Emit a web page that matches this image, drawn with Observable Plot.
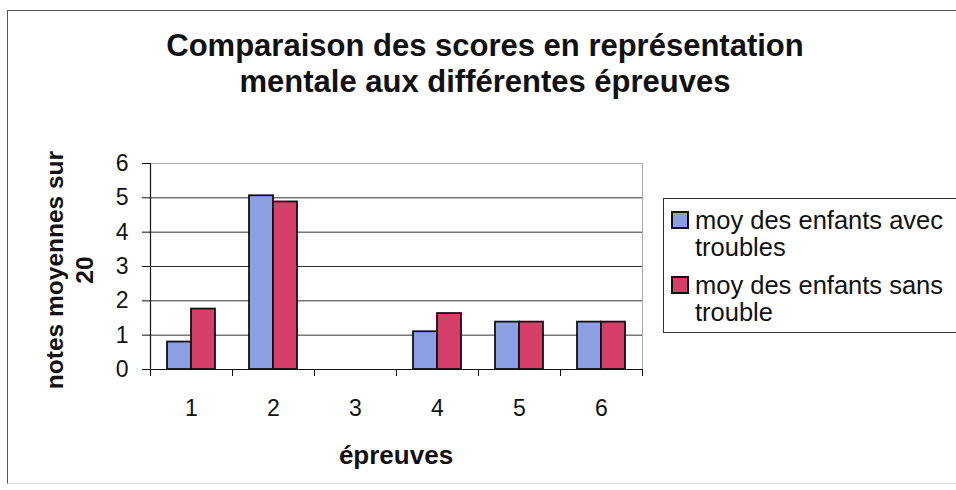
<!DOCTYPE html>
<html>
<head>
<meta charset="utf-8">
<script src="https://cdn.jsdelivr.net/npm/d3@7"></script>
<script src="https://cdn.jsdelivr.net/npm/@observablehq/plot@0.6"></script>
<style>
  html, body { margin: 0; padding: 0; background: #fff; }
  body { font-family: "Liberation Sans", Arial, sans-serif; color: #111; }
  #wrap { position: relative; width: 956px; height: 490px; overflow: hidden; }
  #border { position: absolute; left: 7px; top: 10px; width: 970px; height: 472px;
            border-left: 1px solid #555; border-top: 1px solid #555; border-bottom: 1px solid #ddd; }
  #title { position: absolute; left: 7px; top: 28px; width: 956px; text-align: center;
           font-weight: bold; font-size: 31px; line-height: 36px; }
  #chart { position: absolute; left: 0; top: 130px; }
  #ylabel { position: absolute; left: 70px; top: 270px; width: 300px; transform: translate(-50%,-50%) rotate(-90deg);
            text-align: center; font-weight: bold; font-size: 24.5px; line-height: 30px; }
  #xlabel { position: absolute; left: 396px; top: 455px; transform: translate(-50%,-50%);
            font-weight: bold; font-size: 26px; white-space: nowrap; }
  #legend { position: absolute; left: 663px; top: 198px; width: 320px; height: 135px;
            border: 1px solid #333; box-sizing: border-box; padding: 8px 0 0 7px; }
  .entry { display: flex; align-items: flex-start; margin-bottom: 11px; }
  .sw { width: 14px; height: 14px; border: 2px solid #111; margin-top: 4px; margin-right: 6px; flex: none; }
  .lt div { font-size: 25.5px; line-height: 27px; height: 27px; white-space: nowrap; }
</style>
</head>
<body>
<div id="wrap">
  <div id="border"></div>
  <div id="title"></div>
  <div id="chart"></div>
  <div id="ylabel"></div>
  <div id="xlabel"></div>
  <div id="legend"></div>
</div>
<script>
const titleLines = ["Comparaison des scores en représentation", "mentale aux différentes épreuves"];
const yLabelLines = ["notes moyennes sur", "20"];
const xLabel = "épreuves";
const epreuves = ["1", "2", "3", "4", "5", "6"];
const series = ["moy des enfants avec troubles", "moy des enfants sans trouble"];
const legendLines = [["moy des enfants avec", "troubles"], ["moy des enfants sans", "trouble"]];
const avec = [0.8, 5.06, 0, 1.1, 1.38, 1.38];
const sans = [1.76, 4.88, 0, 1.63, 1.38, 1.38];
const yTicks = [0, 1, 2, 3, 4, 5, 6];
const colors = ["#8c9fe2", "#d53f69"];

document.getElementById("title").innerHTML = titleLines.join("<br>");
document.getElementById("ylabel").innerHTML = yLabelLines.join("<br>");
document.getElementById("xlabel").textContent = xLabel;
document.getElementById("legend").innerHTML = legendLines.map((lines, i) =>
  `<div class="entry"><div class="sw" style="background:${colors[i]}"></div><div class="lt">${lines.map(l => `<div>${l}</div>`).join("")}</div></div>`
).join("");

const dataAvec = epreuves.map((e, i) => ({epreuve: e, serie: series[0], value: avec[i]}));
const dataSans = epreuves.map((e, i) => ({epreuve: e, serie: series[1], value: sans[i]}));

const chart = Plot.plot({
  width: 956,
  height: 360,
  marginLeft: 150,
  marginRight: 314,
  marginTop: 33,
  marginBottom: 121,
  style: {fontFamily: '"Liberation Sans", Arial, sans-serif', fontSize: "23px", color: "#111", background: "transparent", overflow: "visible"},
  x: {domain: epreuves, padding: 0, axis: null},
  y: {domain: [0, 6], axis: null},
  marks: [
    Plot.frame({stroke: "#aaa"}),
    Plot.gridY(yTicks.slice(1, -1), {stroke: "#333", strokeOpacity: 1}),
    Plot.barY(dataAvec, {x: "epreuve", y: "value", fill: colors[0], stroke: "#111", strokeWidth: 1.8, insetLeft: 17, insetRight: 41}),
    Plot.barY(dataSans, {x: "epreuve", y: "value", fill: colors[1], stroke: "#111", strokeWidth: 1.8, insetLeft: 41, insetRight: 17}),
    Plot.ruleY([0], {stroke: "#111", strokeWidth: 1.2}),
    Plot.ruleX([epreuves[0]], {dx: -41, stroke: "#111", strokeWidth: 1.2}),
    Plot.axisY({ticks: yTicks, tickFormat: d => String(d), tickSize: 8, tickPadding: 14, label: null, fontSize: 23}),
    Plot.axisX({tickSize: 7, tickFormat: () => "", label: null, dx: -41}),
    Plot.axisX({tickSize: 7, tickFormat: () => "", label: null, dx: 41}),
    Plot.axisX({tickSize: 0, tickPadding: 30, label: null, fontSize: 23})
  ]
});
document.getElementById("chart").appendChild(chart);
</script>
</body>
</html>
